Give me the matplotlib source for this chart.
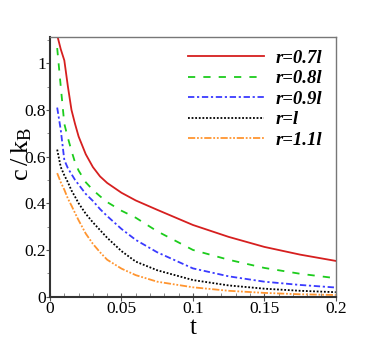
import numpy as np
import matplotlib
matplotlib.use('Agg')
import matplotlib.pyplot as plt
from matplotlib.ticker import MultipleLocator

# values
t = [0.005, 0.0075, 0.01, 0.0125, 0.015, 0.0175, 0.02, 0.025, 0.03, 0.035,
     0.04, 0.05, 0.06, 0.075, 0.1, 0.125, 0.15, 0.175, 0.2]

c_07 = [1.12, 1.06, 1.012, 0.90, 0.80, 0.74, 0.686, 0.61, 0.555, 0.515,
        0.487, 0.445, 0.412, 0.372, 0.307, 0.256, 0.213, 0.18, 0.153]
c_08 = [1.065, 0.90, 0.74, 0.68, 0.625, 0.575, 0.54, 0.49, 0.457, 0.43,
        0.405, 0.368, 0.338, 0.28, 0.20, 0.158, 0.123, 0.098, 0.079]
c_09 = [0.81, 0.714, 0.585, 0.55, 0.525, 0.50, 0.48, 0.44, 0.41, 0.375,
        0.345, 0.29, 0.243, 0.19, 0.121, 0.087, 0.064, 0.05, 0.039]
c_10 = [0.63, 0.555, 0.52, 0.49, 0.455, 0.428, 0.40, 0.355, 0.318, 0.285,
        0.252, 0.195, 0.15, 0.113, 0.071, 0.048, 0.034, 0.025, 0.019]
c_11 = [0.529, 0.49, 0.458, 0.42, 0.39, 0.358, 0.327, 0.27, 0.226, 0.19,
        0.158, 0.12, 0.092, 0.064, 0.04, 0.025, 0.016, 0.01, 0.007]

labels = ['r=0.7l', 'r=0.8l', 'r=0.9l', 'r=l', 'r=1.1l']
xticks = [0, 0.05, 0.1, 0.15, 0.2]
xticklabels = ['0', '0.05', '0.1', '0.15', '0.2']
yticks = [0, 0.2, 0.4, 0.6, 0.8, 1.0]
yticklabels = ['0', '0.2', '0.4', '0.6', '0.8', '1']

plt.rcParams['font.family'] = 'Liberation Serif'
plt.rcParams['mathtext.fontset'] = 'custom'
plt.rcParams['mathtext.rm'] = 'Liberation Serif'

fig = plt.figure(figsize=(3.82, 3.39), dpi=100)
ax = fig.add_axes([0.131, 0.125, 0.748, 0.767])

ax.plot(t, c_07, color='#d61f1f', lw=1.3, ls='-', label=labels[0])
ax.plot(t, c_08, color='#1ccc1c', lw=1.3, ls=(0, (4, 4.5)), label=labels[1])
ax.plot(t, c_09, color='#3a3aff', lw=1.3, ls=(0, (3.5, 1.5, 1.2, 1.5)), label=labels[2])
ax.plot(t, c_10, color='black', lw=1.3, ls=(0, (1, 1)), label=labels[3])
ax.plot(t, c_11, color='#ff9530', lw=1.3, ls=(0, (4, 1, 1, 1, 1, 1)), label=labels[4])

ax.set_xlim(0, 0.2)
ax.set_ylim(0, 1.114)
ax.set_xticks(xticks)
ax.set_xticklabels(xticklabels)
ax.set_yticks(yticks)
ax.set_yticklabels(yticklabels)
ax.xaxis.set_minor_locator(MultipleLocator(0.01))
ax.yaxis.set_minor_locator(MultipleLocator(0.1))
ax.tick_params(axis='both', which='major', labelsize=12.5, pad=0, color='#555555')
ax.tick_params(axis='x', which='major', direction='inout', length=6)
ax.tick_params(axis='x', which='minor', direction='in', length=3, color='#777777')
ax.tick_params(axis='y', which='major', direction='out', length=3)
ax.tick_params(axis='y', which='minor', direction='out', length=2, color='#777777')

for s in ['left', 'bottom']:
    ax.spines[s].set_color('#333333')
    ax.spines[s].set_linewidth(1.5)
for s in ['top', 'right']:
    ax.spines[s].set_color('#777777')
    ax.spines[s].set_linewidth(1.0)

ax.set_xlabel('t', fontsize=18, labelpad=0)
ax.set_ylabel(r'$\mathregular{c\,/\,k_B}$', fontsize=19)
ax.yaxis.set_label_coords(-0.055, 0.55)

leg = ax.legend(loc='upper right', frameon=False, handlelength=4.05,
                handletextpad=0.64, labelspacing=0.18, borderaxespad=0.3,
                prop={'family': 'Liberation Serif', 'weight': 'bold',
                      'style': 'italic', 'size': 13.5})

fig.savefig('out.png', dpi=100)
